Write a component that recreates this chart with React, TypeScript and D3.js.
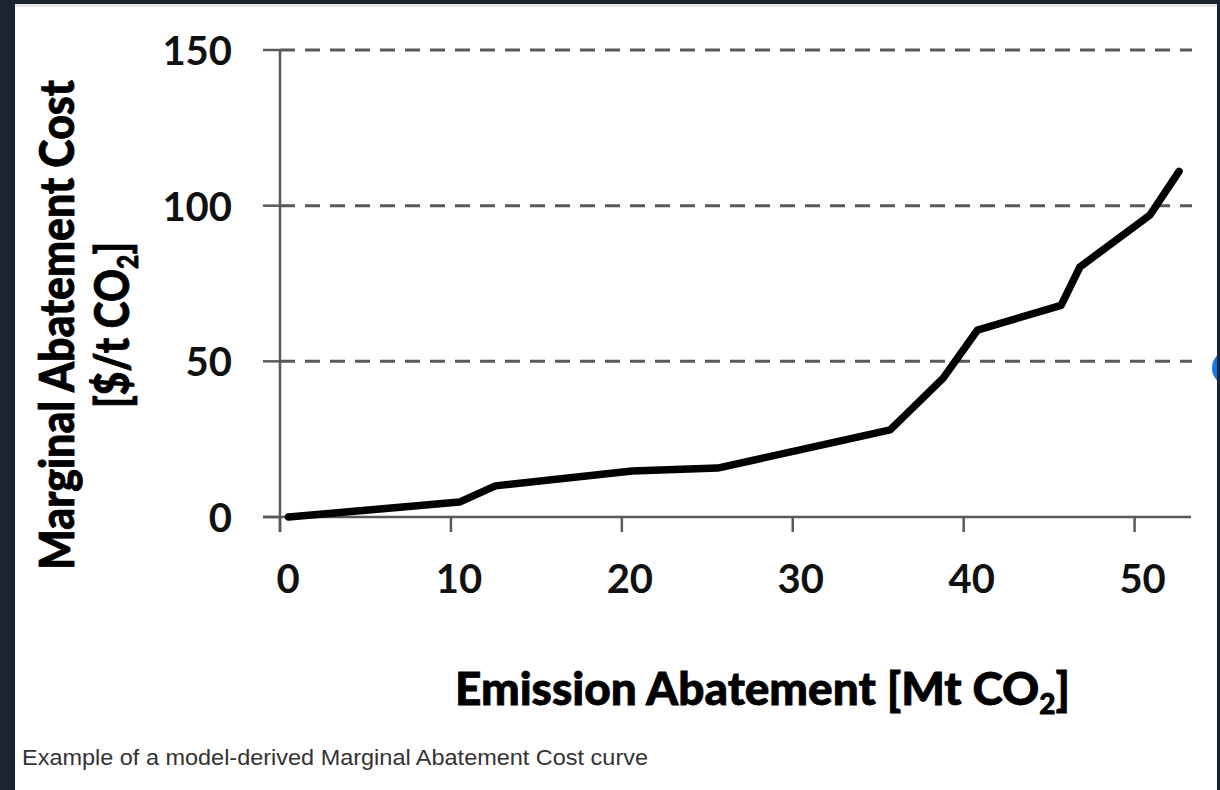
import React from "react";
import * as d3 from "d3";

// Data
const abatement = [0.5, 10.5, 12.6, 20.6, 25.6, 35.7, 38.8, 40.8, 45.7, 46.8, 50.9, 52.6];
const cost = [0, 4.8, 10, 14.8, 15.7, 28, 44.6, 60, 68, 80.3, 97, 111];
const xTicks = [0, 10, 20, 30, 40, 50];
const yTicks = [0, 50, 100, 150];
const gridTicks = [50, 100, 150];
const xTitle = "Emission Abatement [Mt CO";
const yTitle1 = "Marginal Abatement Cost";
const yTitle2 = "[$/t CO";
const caption = "Example of a model-derived Marginal Abatement Cost curve";

const W = 1220;
const H = 790;

export default function App() {
  const x = d3.scaleLinear().domain([0, 53.3]).range([280, 1191]);
  const y = d3.scaleLinear().domain([0, 150]).range([517, 50]);
  const pts = abatement.map((a, i) => [a, cost[i]] as [number, number]);
  const line = d3
    .line<[number, number]>()
    .x((d) => x(d[0]))
    .y((d) => y(d[1]));
  const axisColor = "#595959";
  const font = "Lato, 'Open Sans', sans-serif";

  return (
    <div style={{ position: "fixed", left: 0, top: 0, width: W, height: H }}>
      <svg width={W} height={H} style={{ display: "block" }}>
        <rect x={0} y={0} width={W} height={H} fill="#1b2530" />
        <rect x={15} y={4} width={1202} height={H - 4} fill="#ffffff" />
        <rect x={15} y={4} width={1202} height={3} fill="#e6e6e6" />
        <circle cx={1230} cy={368} r={18} fill="#1a73f0" />
        <rect x={1217} y={0} width={3} height={H} fill="#1b2530" />

        {/* gridlines */}
        {gridTicks.map((t) => (
          <line
            key={"g" + t}
            x1={x(0)}
            x2={1192}
            y1={y(t)}
            y2={y(t)}
            stroke={axisColor}
            strokeWidth={3}
            strokeDasharray="15 10"
          />
        ))}

        {/* axes */}
        <line x1={x(0)} x2={x(0)} y1={y(150)} y2={532} stroke={axisColor} strokeWidth={2.5} />
        <line x1={263} x2={1191} y1={y(0)} y2={y(0)} stroke={axisColor} strokeWidth={2.5} />
        {yTicks.map((t) => (
          <line key={"yt" + t} x1={263} x2={x(0)} y1={y(t)} y2={y(t)} stroke={axisColor} strokeWidth={2.5} />
        ))}
        {xTicks.map((t) => (
          <line key={"xt" + t} x1={x(t)} x2={x(t)} y1={y(0)} y2={532} stroke={axisColor} strokeWidth={2.5} />
        ))}

        {/* tick labels */}
        {yTicks.map((t) => (
          <text
            key={"yl" + t}
            x={232}
            y={y(t) + 15}
            textAnchor="end"
            fontFamily={font}
            fontWeight={700}
            fontSize={40}
            fill="#111"
          >
            {t}
          </text>
        ))}
        {xTicks.map((t) => (
          <text
            key={"xl" + t}
            x={x(t) + 8}
            y={593}
            textAnchor="middle"
            fontFamily={font}
            fontWeight={700}
            fontSize={40}
            fill="#111"
          >
            {t}
          </text>
        ))}

        {/* curve */}
        <path
          d={line(pts) || ""}
          fill="none"
          stroke="#000"
          strokeWidth={7.5}
          strokeLinejoin="round"
          strokeLinecap="round"
        />

        {/* x title */}
        <text
          x={455}
          y={705}
          fontFamily={font}
          fontWeight={900}
          fontSize={46}
          fill="#000"
          stroke="#000"
          strokeWidth={0.8}
          textLength={615}
          lengthAdjust="spacingAndGlyphs"
        >
          {xTitle}
          <tspan fontSize={28} dy={9}>2</tspan>
          <tspan dy={-9}>]</tspan>
        </text>

        {/* y title */}
        <g transform="translate(74,325) rotate(-90)">
          <text
            x={-245}
            y={0}
            fontFamily={font}
            fontWeight={900}
            fontSize={48}
            fill="#000"
            stroke="#000"
            strokeWidth={0.8}
            textLength={490}
            lengthAdjust="spacingAndGlyphs"
          >
            {yTitle1}
          </text>
        </g>
        <g transform="translate(129,325) rotate(-90)">
          <text
            x={-83}
            y={0}
            fontFamily={font}
            fontWeight={900}
            fontSize={48}
            fill="#000"
            stroke="#000"
            strokeWidth={0.8}
            textLength={166}
            lengthAdjust="spacingAndGlyphs"
          >
            {yTitle2}
            <tspan fontSize={29} dy={9}>2</tspan>
            <tspan dy={-9}>]</tspan>
          </text>
        </g>

        {/* caption */}
        <text
          x={22}
          y={765}
          fontFamily="'Liberation Sans', Arial, sans-serif"
          fontSize={22}
          fill="#333"
          textLength={626}
          lengthAdjust="spacingAndGlyphs"
        >
          {caption}
        </text>
      </svg>
    </div>
  );
}
